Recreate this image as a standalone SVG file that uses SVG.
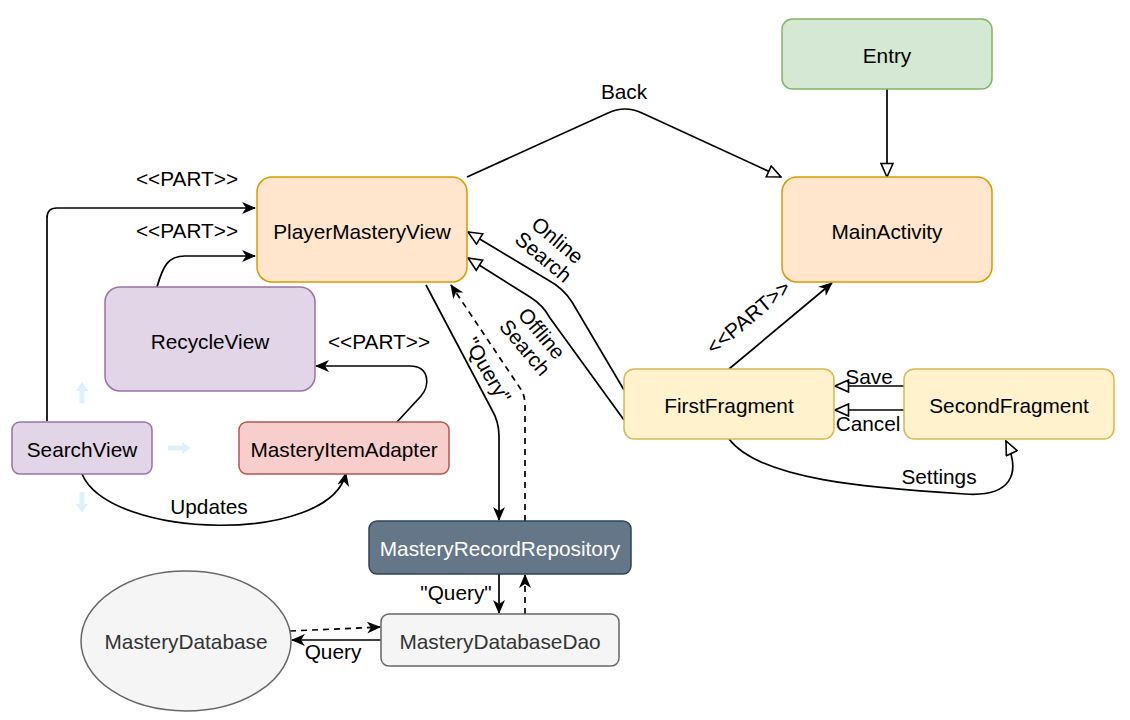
<svg xmlns="http://www.w3.org/2000/svg" width="1130" height="720" viewBox="0 0 1130 720">
<style>
text{font-family:"Liberation Sans",Arial,sans-serif;font-size:20.8px;fill:#000;text-anchor:middle;dominant-baseline:central}
.n{stroke-width:1.5}
.e{fill:none;stroke:#000;stroke-width:1.7}
.d{stroke-dasharray:6 5}
.hint{fill:#ddf1fc}
</style>
<defs>
<marker id="classic" viewBox="0 0 14 12" refX="13" refY="6" markerWidth="14" markerHeight="12" orient="auto" markerUnits="userSpaceOnUse"><path d="M0,0 L14,6 L0,12 L4,6 z" fill="#000"/></marker>
<marker id="block" viewBox="0 0 16 14" refX="15" refY="7" markerWidth="16" markerHeight="14" orient="auto" markerUnits="userSpaceOnUse"><path d="M1.5,1 L15,7 L1.5,13 z" fill="#fff" stroke="#000" stroke-width="1.6"/></marker>
</defs>
<rect width="1130" height="720" fill="#fff"/>

<g id="connectors">
<path class="e" d="M887,89 L887,177" marker-end="url(#block)"/>
<path class="e" d="M467,177 L608,113 Q625,105 642,113 L781,177" marker-end="url(#block)"/>
<path class="e" d="M47,421 L47,218 Q47,208 57,208 L255,208" marker-end="url(#classic)"/>
<path class="e" d="M157,287 C163,266 168,256 185,256 L255,256" marker-end="url(#classic)"/>
<path class="e" d="M397,422 L421,396 C430,386 430,366 410,366 L316,366" marker-end="url(#classic)"/>
<path class="e" d="M82,474 C110,540 330,545 346,473" marker-end="url(#classic)"/>
<path class="e" d="M426,285 L492,410 Q499,422 499,436 L499,520" marker-end="url(#classic)"/>
<path class="e d" d="M525,521 L525,405 Q525,395 520,388 L451,285" marker-end="url(#classic)"/>
<path class="e" d="M624,390 L572,302 Q563,288 548,280 L468,232" marker-end="url(#block)"/>
<path class="e" d="M624,420 L550,318 Q543,305 530,297 L468,258" marker-end="url(#block)"/>
<path class="e" d="M729,369 L832,283" marker-end="url(#classic)"/>
<path class="e" d="M904,386 L835,386" marker-end="url(#block)"/>
<path class="e" d="M904,410 L835,410" marker-end="url(#block)"/>
<path class="e" d="M729,439 C760,480 870,488 965,494 C1010,497 1022,475 1006,441" marker-end="url(#block)"/>
<path class="e" d="M499,574 L499,613" marker-end="url(#classic)"/>
<path class="e d" d="M525,614 L525,575" marker-end="url(#classic)"/>
<path class="e" d="M381,640 L292,640" marker-end="url(#classic)"/>
<path class="e d" d="M290,631 L380,627" marker-end="url(#classic)"/>

<text x="624" y="91">Back</text>
<text x="187" y="178">&lt;&lt;PART&gt;&gt;</text>
<text x="187" y="230">&lt;&lt;PART&gt;&gt;</text>
<text x="379" y="341">&lt;&lt;PART&gt;&gt;</text>
<text x="209" y="506">Updates</text>
<text transform="translate(488,370) rotate(60)">"Query"</text>
<text transform="translate(551,248) rotate(40)"><tspan x="0" y="-11">Online</tspan><tspan x="0" y="11">Search</tspan></text>
<text transform="translate(534,340) rotate(50)"><tspan x="0" y="-11">Offline</tspan><tspan x="0" y="11">Search</tspan></text>
<text transform="translate(748,317) rotate(-40)">&lt;&lt;PART&gt;&gt;</text>
<text x="869" y="376">Save</text>
<text x="868" y="423">Cancel</text>
<text x="939" y="476">Settings</text>
<text x="456" y="592">"Query"</text>
<text x="333" y="651">Query</text>
</g>

<g id="hints">
<polygon class="hint" points="82,382 88,391 84.5,391 84.5,403 79.5,403 79.5,391 76,391"/>
<polygon class="hint" points="191,448 182,442 182,445.5 168,445.5 168,450.5 182,450.5 182,454"/>
<polygon class="hint" points="82,513 88,504 84.5,504 84.5,492 79.5,492 79.5,504 76,504"/>
</g>

<g id="entry"><rect class="n" x="782" y="19" width="210" height="70" rx="10.5" fill="#d5e8d4" stroke="#82b366"/><text x="887" y="55">Entry</text></g>
<g id="mainactivity"><rect class="n" x="782" y="177" width="210" height="105" rx="15" fill="#ffe6cc" stroke="#d79b00"/><text x="887" y="231">MainActivity</text></g>
<g id="playermasteryview"><rect class="n" x="257" y="177" width="210" height="105" rx="15" fill="#ffe6cc" stroke="#d79b00"/><text x="362" y="231">PlayerMasteryView</text></g>
<g id="recycleview"><rect class="n" x="105" y="287" width="210" height="104" rx="15" fill="#e1d5e7" stroke="#9673a6"/><text x="210" y="341">RecycleView</text></g>
<g id="searchview"><rect class="n" x="12" y="422" width="140" height="52" rx="8" fill="#e1d5e7" stroke="#9673a6"/><text x="82" y="449">SearchView</text></g>
<g id="masteryitemadapter"><rect class="n" x="239" y="422" width="210" height="52" rx="8" fill="#f8cecc" stroke="#b85450"/><text x="344" y="449">MasteryItemAdapter</text></g>
<g id="masteryrecordrepository"><rect class="n" x="369" y="521" width="262" height="53" rx="8" fill="#647687" stroke="#314354"/><text x="500" y="548" style="fill:#fff">MasteryRecordRepository</text></g>
<g id="masterydatabasedao"><rect class="n" x="381" y="614" width="238" height="52" rx="8" fill="#f5f5f5" stroke="#666666"/><text x="500" y="641" style="fill:#333333">MasteryDatabaseDao</text></g>
<g id="masterydatabase"><ellipse class="n" cx="186" cy="641" rx="105" ry="70" fill="#f5f5f5" stroke="#666666"/><text x="186" y="641" style="fill:#333333">MasteryDatabase</text></g>
<g id="firstfragment"><rect class="n" x="624" y="369" width="210" height="70" rx="10.5" fill="#fff2cc" stroke="#d6b656"/><text x="729" y="405">FirstFragment</text></g>
<g id="secondfragment"><rect class="n" x="904" y="369" width="210" height="70" rx="10.5" fill="#fff2cc" stroke="#d6b656"/><text x="1009" y="405">SecondFragment</text></g>
</svg>
